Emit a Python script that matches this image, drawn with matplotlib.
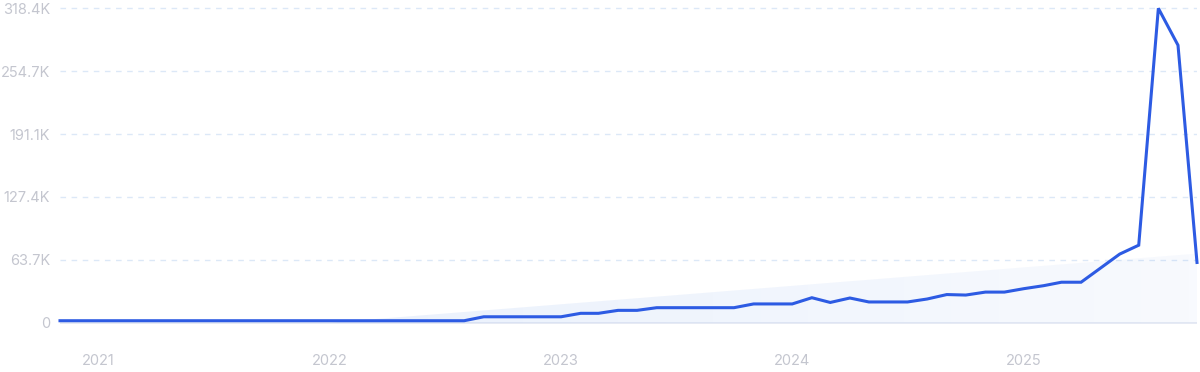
import matplotlib
matplotlib.use("Agg")
from matplotlib import pyplot as plt
import matplotlib.dates as mdates
from matplotlib.patches import Polygon
import numpy as np
import pandas as pd

# monthly values, Nov 2020 .. Oct 2025
start_month = "2020-11-01"
values = [2000] * 22 + [6000] * 5 + [9500, 9500, 12500, 12500] + [15200] * 5 + \
    [19000, 19000, 19000,                                   # Nov 23 - Jan 24
     25300, 20500, 25000, 21000, 21000, 21000, 24000,        # Feb - Aug 24
     28500, 28000, 31000, 31000,                             # Sep - Dec 24
     34500, 37500, 41000, 41000, 55000, 69500, 78500,        # Jan - Jul 25
     318400, 281000, 61000]                                  # Aug - Oct 25

# trend wedge endpoints
trend_dates = ["2022-01-01", "2025-10-01"]
trend_values = [0, 70000]

y_ticks = [0, 63700, 127400, 191100, 254700, 318400]
y_labels = ["0", "63.7K", "127.4K", "191.1K", "254.7K", "318.4K"]
x_years = ["2021", "2022", "2023", "2024", "2025"]

plt.rcParams['font.family'] = ['Inter', 'DejaVu Sans']

dates = pd.date_range(start_month, periods=len(values), freq="MS")
xnum = mdates.date2num(dates)

fig = plt.figure(figsize=(12, 3.72), dpi=100)
W, H = 1200, 372
left, right, top, bottom = 60, 1197, 5, 325
ax = fig.add_axes([left / W, 1 - bottom / H, (right - left) / W, (bottom - top) / H])

# pixel mapping: 0 at y=322.7, 318.4K at y=8.3
per_px = 318400 / (322.7 - 8.3)
ax.set_ylim(-(bottom - 322.7) * per_px, 318400 + (8.3 - top) * per_px)
ax.set_xlim(xnum[0], xnum[-1])

# gridlines
for yt in y_ticks[1:]:
    ax.axhline(yt, color="#dce8f7", lw=1, ls=(0, (4, 4)), zorder=0)
ax.axhline(0, color="#e2e6f2", lw=1.2, zorder=0)

# trend wedge with horizontal gradient
tx = mdates.date2num(pd.to_datetime(trend_dates))
poly = Polygon([(tx[0], trend_values[0]), (tx[1], trend_values[1]), (tx[1], 0)],
               closed=True, facecolor="none", edgecolor="none")
ax.add_patch(poly)
n = 1024
grad = np.linspace(1, 0.35, n).reshape(1, -1)
rgba = np.zeros((1, n, 4))
rgba[..., 0] = 0.25
rgba[..., 1] = 0.50
rgba[..., 2] = 0.90
rgba[..., 3] = grad * 0.11
im = ax.imshow(rgba, extent=[tx[0], tx[1], 0, trend_values[1]], aspect="auto",
               origin="lower", zorder=1, interpolation="nearest")
im.set_clip_path(poly)

ax.plot(xnum, values, color="#2d5be3", lw=2.2, solid_joinstyle="miter",
        zorder=3, clip_on=False)

ax.set_yticks(y_ticks)
ax.set_yticklabels(y_labels)
ax.set_xticks(mdates.date2num(pd.to_datetime([y + "-01-01" for y in x_years])))
ax.set_xticklabels(x_years)
ax.tick_params(axis="both", length=0, labelsize=10.5, colors="#c4c6cf")
ax.tick_params(axis="y", pad=7)
ax.tick_params(axis="x", pad=21)
for s in ax.spines.values():
    s.set_visible(False)

fig.savefig("out.png", dpi=100)
